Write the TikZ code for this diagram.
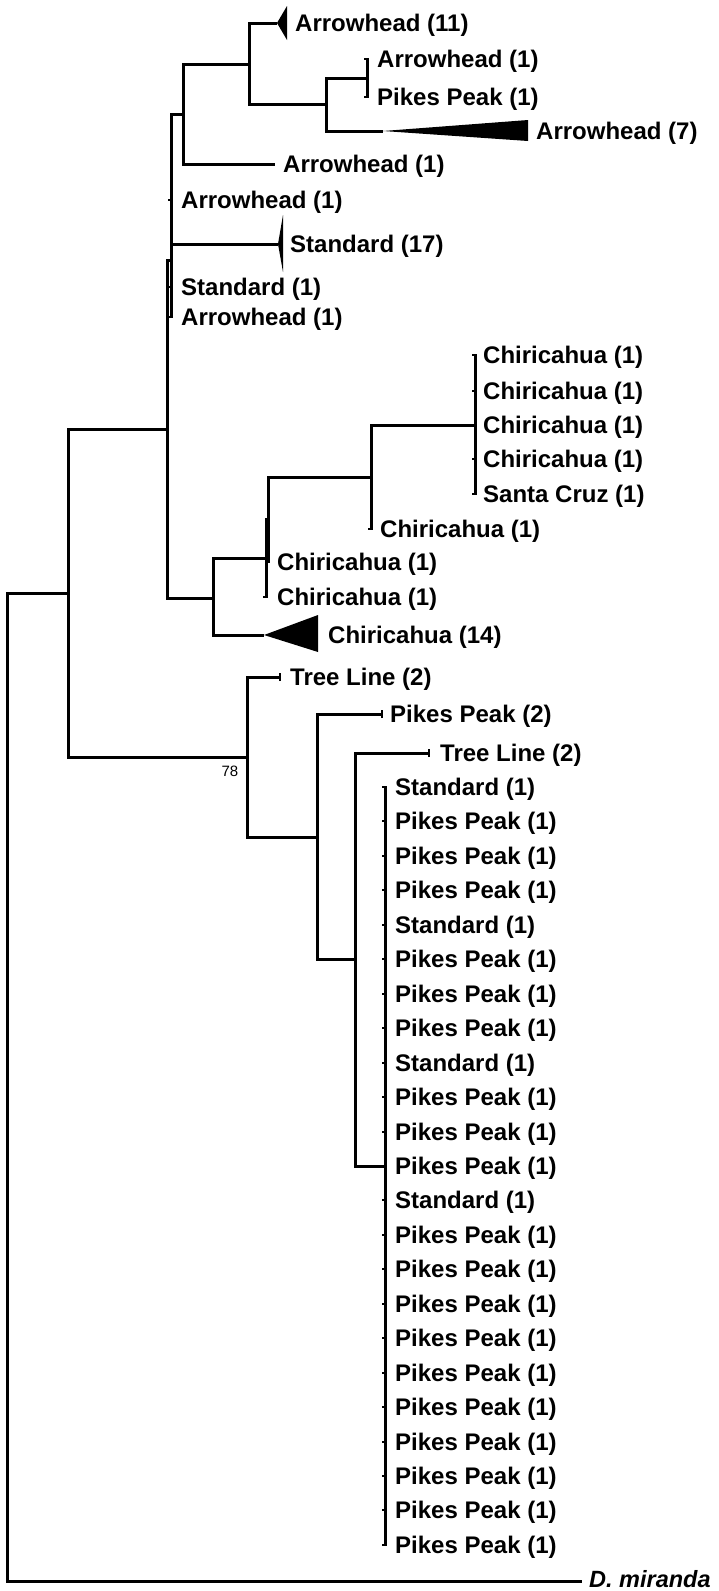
\documentclass[tikz,border=0pt]{standalone}
\usepackage{fontspec}
\setmainfont{Liberation Sans}
\begin{document}
\begin{tikzpicture}[x=1pt,y=-1pt,
  br/.style={line width=3pt},
  tk/.style={line width=2pt},
  lab/.style={anchor=west, inner sep=0pt, text height=17pt, text depth=0pt,
    font=\bfseries\fontsize{24}{28}\selectfont},
  boot/.style={inner sep=0pt, font=\fontsize{15}{18}\selectfont},
  tri/.style={fill=black}]
\useasboundingbox (0,0) rectangle (719,1591);
% ---------- internal nodes ----------
\coordinate (r)  at (7,1087);
\coordinate (A)  at (68,593);
\coordinate (N1) at (167,429);
\coordinate (N2) at (171,260);
\coordinate (N3) at (183,114);
\coordinate (N4) at (249,64);
\coordinate (N5) at (326,104);
\coordinate (N6) at (367,78);
\coordinate (C0) at (213,598);
\coordinate (C1a) at (266,558);
\coordinate (C1b) at (268,519);
\coordinate (C2) at (371,477);
\coordinate (C3) at (475,425);
\coordinate (T0) at (247,757);
\coordinate (T1) at (317,837);
\coordinate (T2) at (355,959);
\coordinate (P)  at (385,1166);
% ---------- tips ----------
\coordinate (t11) at (277,23);
\coordinate (ta1) at (367,59);
\coordinate (tp1) at (367,97);
\coordinate (t7)  at (383,131);
\coordinate (ta2) at (275,164);
\coordinate (ta3) at (171,200);
\coordinate (ts17) at (278,244);
\coordinate (ts1) at (171,287);
\coordinate (ta4) at (171,317);
\coordinate (c1) at (475,355);
\coordinate (c2) at (475,391);
\coordinate (c3) at (475,425);
\coordinate (c4) at (475,459);
\coordinate (c5) at (475,494);
\coordinate (c6) at (371,529);
\coordinate (c7) at (268,562);
\coordinate (c8) at (266,597);
\coordinate (t14) at (264,635);
\coordinate (tl1) at (280,677);
\coordinate (pp2) at (382,714);
\coordinate (tl2) at (429,753);
\coordinate (dm) at (582,1581);
% ---------- branches ----------
\draw[br] (r) |- (A);
\draw[br] (r) |- (dm);
\draw[br] (A) |- (N1);
\draw[br] (A) |- (T0);
\draw[br] (N1) |- (N2);
\draw[br] (N1) |- (C0);
\draw[br] (N2) |- (N3);
\draw[br] (N2) |- (ts17);
\draw[br] (N2) |- (ta4);
\draw[br] (N3) |- (N4);
\draw[br] (N3) |- (ta2);
\draw[br] (N4) |- (t11);
\draw[br] (N4) |- (N5);
\draw[br] (N5) |- (N6);
\draw[br] (N5) |- (t7);
\draw[br] (N6) |- (ta1);
\draw[br] (N6) |- (tp1);
\draw[br] (C0) |- (C1a);
\draw[br] (C0) |- (t14);
\draw[br] (C1a) |- (C1b);
\draw[br] (C1a) |- (c8);
\draw[br] (C1b) |- (C2);
\draw[br] (C1b) |- (c7);
\draw[br] (C2) |- (C3);
\draw[br] (C2) |- (c6);
\draw[br] (C3) |- (c1);
\draw[br] (C3) |- (c5);
\draw[br] (T0) |- (tl1);
\draw[br] (T0) |- (T1);
\draw[br] (T1) |- (pp2);
\draw[br] (T1) |- (T2);
\draw[br] (T2) |- (tl2);
\draw[br] (T2) |- (P);
% ---------- collapsed clades ----------
\fill[tri] (t11) -- (287,6) -- (287,40) -- cycle;
\fill[tri] (t7) -- (528,120) -- (528,141) -- cycle;
\fill[tri] (ts17) -- (283,215) -- (283,272) -- cycle;
\fill[tri] (t14) -- (318,615) -- (318,652) -- cycle;
% ---------- tip ticks ----------
\foreach \c in {ta1,tp1,ta3,ts1,ta4,c1,c2,c3,c4,c5,c6,c7,c8}
  \draw[tk] ([xshift=-3pt]\c) -- ([xshift=2pt]\c);
\foreach \c in {tl1,pp2,tl2}
  \draw[tk] ([yshift=-4pt]\c) -- ([yshift=4pt]\c);
% ---------- labels ----------
\node[lab] (l11) at (295,23) {Arrowhead (11)};
\node[lab] (la1) at (377,59) {Arrowhead (1)};
\node[lab] (lp1) at (377,97) {Pikes Peak (1)};
\node[lab] (l7)  at (536,131) {Arrowhead (7)};
\node[lab] (la2) at (283,164) {Arrowhead (1)};
\node[lab] (la3) at (181,200) {Arrowhead (1)};
\node[lab] (ls17) at (290,244) {Standard (17)};
\node[lab] (ls1) at (181,287) {Standard (1)};
\node[lab] (la4) at (181,317) {Arrowhead (1)};
\node[lab] (lc1) at (483,355) {Chiricahua (1)};
\node[lab] (lc2) at (483,391) {Chiricahua (1)};
\node[lab] (lc3) at (483,425) {Chiricahua (1)};
\node[lab] (lc4) at (483,459) {Chiricahua (1)};
\node[lab] (lc5) at (483,494) {Santa Cruz (1)};
\node[lab] (lc6) at (380,529) {Chiricahua (1)};
\node[lab] (lc7) at (277,562) {Chiricahua (1)};
\node[lab] (lc8) at (277,597) {Chiricahua (1)};
\node[lab] (l14) at (328,635) {Chiricahua (14)};
\node[lab] (ltl1) at (290,677) {Tree Line (2)};
\node[lab] (lpp2) at (390,714) {Pikes Peak (2)};
\node[lab] (ltl2) at (440,753) {Tree Line (2)};
\node[lab, font=\bfseries\itshape\fontsize{23.5}{28}\selectfont] (ldm) at (589,1579) {D. miranda};
\node[boot] (b78) at (230,771) {78};
% ---------- Pikes Peak polytomy ----------
\foreach \t [count=\i from 0] in {Standard,Pikes Peak,Pikes Peak,Pikes Peak,
    Standard,Pikes Peak,Pikes Peak,Pikes Peak,Standard,Pikes Peak,Pikes Peak,
    Pikes Peak,Standard,Pikes Peak,Pikes Peak,Pikes Peak,Pikes Peak,Pikes Peak,
    Pikes Peak,Pikes Peak,Pikes Peak,Pikes Peak,Pikes Peak}{
  \coordinate (p\i) at ({385},{787+34.45*\i});
  \draw[tk] ([xshift=-3pt]p\i) -- ([xshift=2pt]p\i);
  \node[lab] (lp\i) at ({395},{787+34.45*\i}) {\t\ (1)};
}
\draw[br] (P) |- (p0);
\draw[br] (P) |- (p22);
\end{tikzpicture}
\end{document}
